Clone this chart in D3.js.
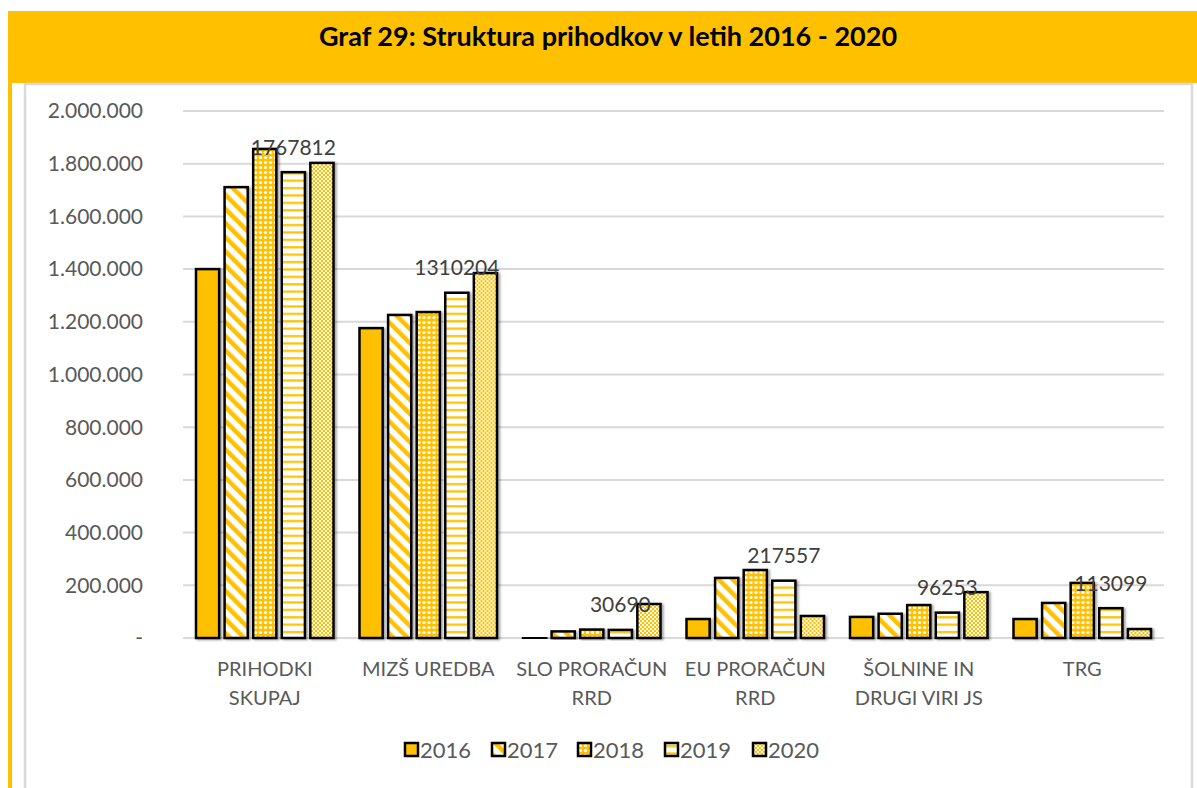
<!DOCTYPE html>
<html>
<head>
<meta charset="utf-8">
<script src="https://cdn.jsdelivr.net/npm/d3@7"></script>
<style>
  body { margin: 0; background: #fff; }
  svg { display: block; font-family: Lato, "Open Sans", sans-serif; }
</style>
</head>
<body>
<script>
var categories = [["PRIHODKI", "SKUPAJ"], ["MIZŠ UREDBA"], ["SLO PRORAČUN", "RRD"], ["EU PRORAČUN", "RRD"], ["ŠOLNINE IN", "DRUGI VIRI JS"], ["TRG"]];
var years = ["2016", "2017", "2018", "2019", "2020"];
var v2016 = [1400000, 1176000, 3000, 72000, 80000, 72000];
var v2017 = [1711000, 1226000, 25000, 228000, 92000, 133000];
var v2018 = [1856000, 1237000, 32000, 258000, 125000, 209000];
var v2019 = [1767812, 1310204, 30690, 217557, 96253, 113099];
var v2020 = [1803000, 1385000, 129000, 83500, 174000, 34000];
var yTicks = [0, 200000, 400000, 600000, 800000, 1000000, 1200000, 1400000, 1600000, 1800000, 2000000];

var series = [v2016, v2017, v2018, v2019, v2020];
var yellow = "#FFC000";

var svg = d3.select("body").append("svg")
    .attr("width", 1197)
    .attr("height", 788);

var defs = svg.append("defs");

// fill patterns, one per year
defs.append("pattern").attr("id", "p2016")
    .attr("patternUnits", "userSpaceOnUse").attr("width", 4).attr("height", 4)
  .append("rect").attr("width", 4).attr("height", 4).attr("fill", yellow);

var p17 = defs.append("pattern").attr("id", "p2017")
    .attr("patternUnits", "userSpaceOnUse").attr("width", 10).attr("height", 10)
    .attr("patternTransform", "rotate(-45)");
p17.append("rect").attr("width", 10).attr("height", 10).attr("fill", "#fff");
p17.append("rect").attr("width", 4.5).attr("height", 10).attr("fill", yellow);

var p18 = defs.append("pattern").attr("id", "p2018")
    .attr("patternUnits", "userSpaceOnUse").attr("width", 5).attr("height", 5);
p18.append("rect").attr("width", 5).attr("height", 5).attr("fill", yellow);
p18.append("circle").attr("cx", 2.5).attr("cy", 2.5).attr("r", 1.6).attr("fill", "#fff");

var p19 = defs.append("pattern").attr("id", "p2019")
    .attr("patternUnits", "userSpaceOnUse").attr("width", 7).attr("height", 7.4);
p19.append("rect").attr("width", 7).attr("height", 7.4).attr("fill", "#fff");
p19.append("rect").attr("y", 2).attr("width", 7).attr("height", 2.2).attr("fill", yellow);

var p20 = defs.append("pattern").attr("id", "p2020")
    .attr("patternUnits", "userSpaceOnUse").attr("width", 4).attr("height", 4);
p20.append("rect").attr("width", 4).attr("height", 4).attr("fill", yellow);
p20.append("rect").attr("width", 2).attr("height", 2).attr("fill", "#fff");
p20.append("rect").attr("x", 2).attr("y", 2).attr("width", 2).attr("height", 2).attr("fill", "#fff8e0");

var shadow = defs.append("filter").attr("id", "shadow")
    .attr("x", "-20%").attr("y", "-20%").attr("width", "150%").attr("height", "150%");
shadow.append("feDropShadow").attr("dx", 2).attr("dy", 1).attr("stdDeviation", 1.3)
    .attr("flood-color", "#000").attr("flood-opacity", 0.35);

// frame
svg.append("rect").attr("x", 8).attr("y", 11).attr("width", 1189).attr("height", 72).attr("fill", yellow);
svg.append("rect").attr("x", 8).attr("y", 83).attr("width", 4).attr("height", 705).attr("fill", yellow);
svg.append("rect").attr("x", 25).attr("y", 84).attr("width", 1167).attr("height", 710)
    .attr("fill", "#fff").attr("stroke", "#d9d9d9").attr("stroke-width", 2.5);

svg.append("text")
    .attr("x", 608).attr("y", 37).attr("dy", "0.35em")
    .attr("text-anchor", "middle")
    .attr("font-size", 27).attr("font-weight", "bold").attr("fill", "#000")
    .text("Graf 29: Struktura prihodkov v letih 2016 - 2020");

var x0 = d3.scaleBand().domain(d3.range(categories.length)).range([183, 1164]).paddingInner(0).paddingOuter(0);
var x1 = d3.scaleBand().domain(years).range([13, x0.bandwidth() - 13]).paddingInner(0.19);
var y = d3.scaleLinear().domain([0, 2000000]).range([638, 111]);

var fmt = function(v) { return v === 0 ? "-" : d3.format(",")(v).replace(/,/g, "."); };

// gridlines
svg.append("g").selectAll("line").data(yTicks).enter().append("line")
    .attr("x1", 183).attr("x2", 1164)
    .attr("y1", function(d) { return y(d); }).attr("y2", function(d) { return y(d); })
    .attr("stroke", "#d9d9d9").attr("stroke-width", 2);

svg.append("g").selectAll("text").data(yTicks).enter().append("text")
    .attr("x", 143).attr("y", function(d) { return y(d); }).attr("dy", "0.35em")
    .attr("text-anchor", "end").attr("font-size", 21).attr("fill", "#595959")
    .text(fmt);

// bars
var group = svg.append("g").selectAll("g").data(categories).enter().append("g")
    .attr("transform", function(d, i) { return "translate(" + x0(i) + ",0)"; });

group.selectAll("rect").data(function(d, i) {
      return years.map(function(yr, j) { return { year: yr, value: series[j][i] }; });
    })
    .enter().append("rect")
    .attr("x", function(d) { return x1(d.year); })
    .attr("width", x1.bandwidth())
    .attr("y", function(d) { return y(d.value); })
    .attr("height", function(d) { return y(0) - y(d.value); })
    .attr("fill", function(d) { return "url(#p" + d.year + ")"; })
    .attr("stroke", "#000").attr("stroke-width", 2.5)
    .attr("filter", "url(#shadow)");

// data labels on 2019 series
group.append("text")
    .attr("x", x1("2019") + x1.bandwidth() / 2)
    .attr("y", function(d, i) { return y(v2019[i]) - 25; })
    .attr("dy", "0.35em")
    .attr("text-anchor", "middle").attr("font-size", 21).attr("fill", "#404040")
    .text(function(d, i) { return v2019[i]; });

// category labels
group.append("text")
    .attr("x", x0.bandwidth() / 2)
    .attr("text-anchor", "middle").attr("font-size", 20).attr("fill", "#595959")
    .selectAll("tspan").data(function(d) { return d; }).enter().append("tspan")
    .attr("x", x0.bandwidth() / 2)
    .attr("y", function(d, i) { return 676 + i * 29; })
    .text(function(d) { return d; });

// legend
var legendX = [405, 492, 578, 665, 753];
var legend = svg.append("g").selectAll("g").data(years).enter().append("g")
    .attr("transform", function(d, i) { return "translate(" + legendX[i] + ",743)"; });
legend.append("rect")
    .attr("width", 13).attr("height", 13)
    .attr("fill", function(d) { return "url(#p" + d + ")"; })
    .attr("stroke", "#000").attr("stroke-width", 2.5);
legend.append("text")
    .attr("x", 15).attr("y", 7).attr("dy", "0.35em")
    .attr("font-size", 22).attr("fill", "#595959")
    .text(function(d) { return d; });
</script>
</body>
</html>
